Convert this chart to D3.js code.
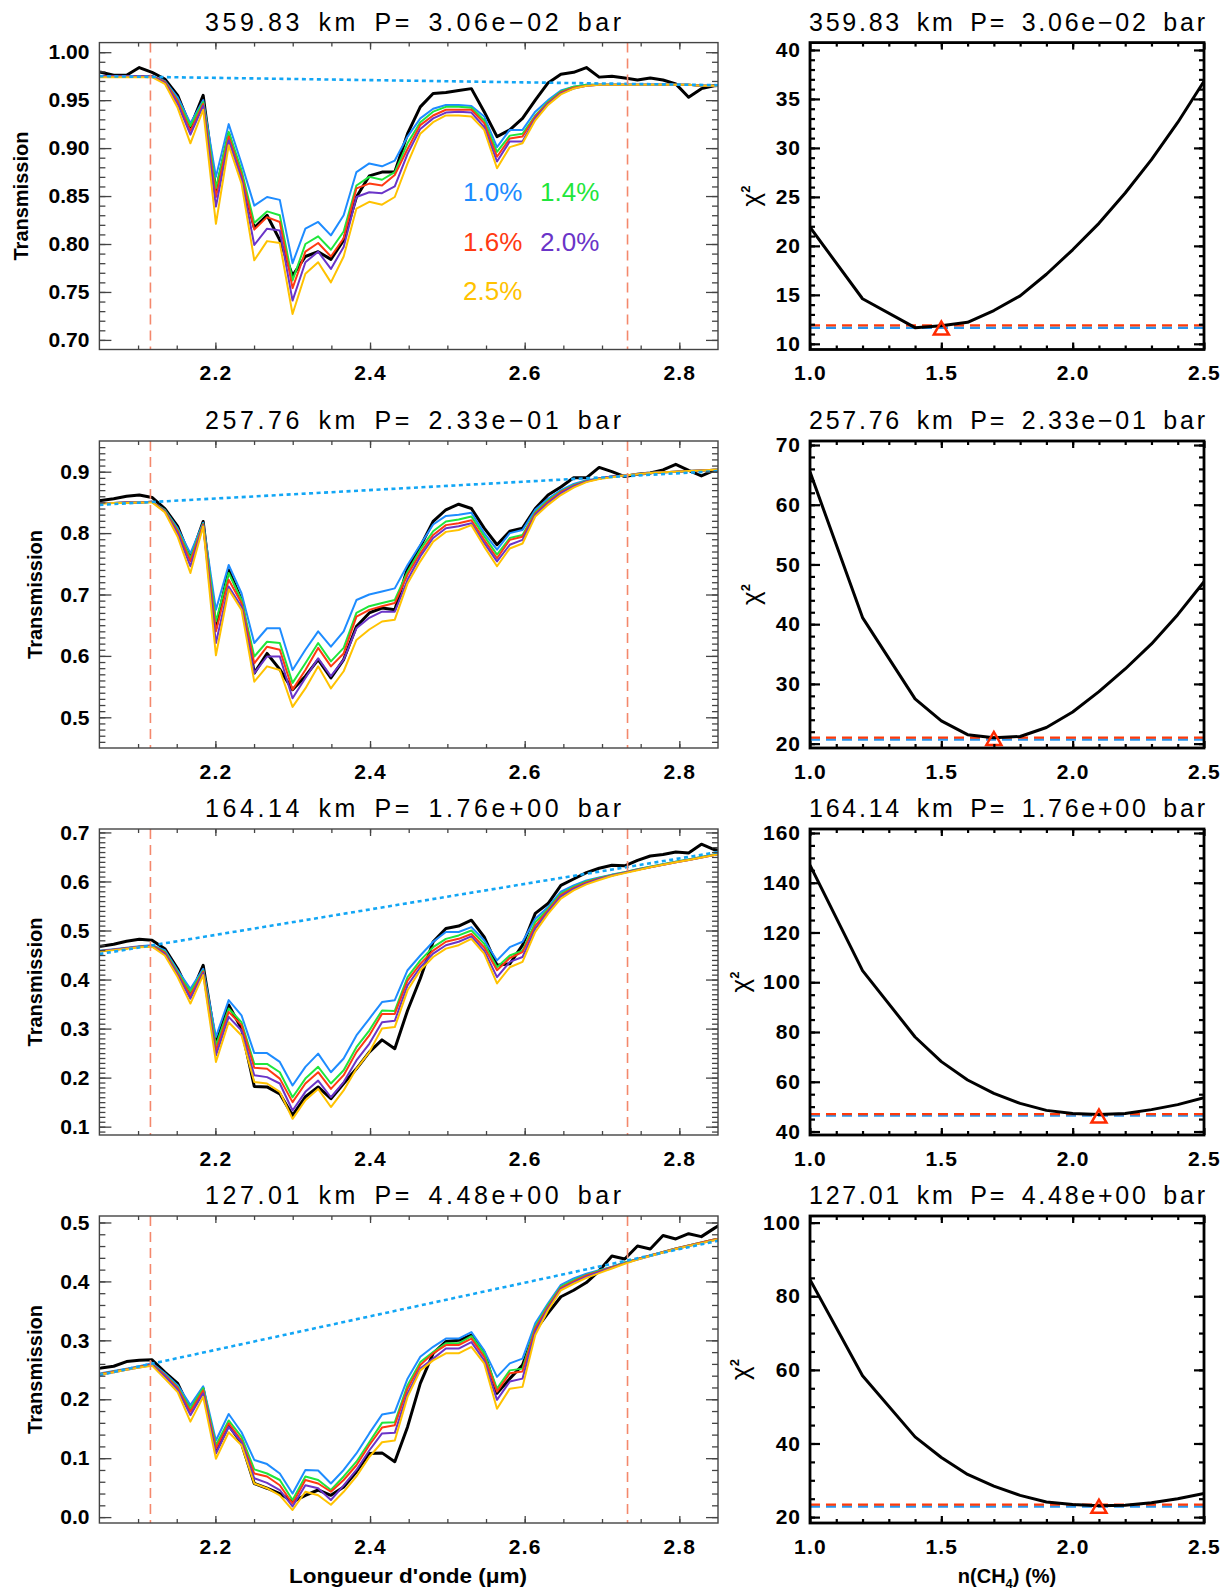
<!DOCTYPE html>
<html><head><meta charset="utf-8">
<script src="https://cdn.jsdelivr.net/npm/d3@7"></script>
<style>
body{margin:0;background:#fff;}
svg{display:block;font-family:"Liberation Sans",Arial,Helvetica,sans-serif;}
</style>
</head><body>
<svg id="c" width="1231" height="1590"></svg>
<script>
// ---------------- DATA ----------------
const wl = [2.0355,2.0520,2.0685,2.0851,2.1016,2.1181,2.1346,2.1512,2.1677,2.1842,2.2007,2.2172,2.2338,2.2503,2.2668,2.2833,2.2998,2.3164,2.3329,2.3494,2.3659,2.3824,2.3990,2.4155,2.4320,2.4485,2.4650,2.4816,2.4981,2.5146,2.5311,2.5476,2.5642,2.5807,2.5972,2.6137,2.6302,2.6468,2.6633,2.6798,2.6963,2.7128,2.7294,2.7459,2.7624,2.7789,2.7954,2.8120,2.8285,2.8450,2.8615];

const titles = ["359.83 km P= 3.06e\u221202 bar","257.76 km P= 2.33e\u221201 bar","164.14 km P= 1.76e+00 bar","127.01 km P= 4.48e+00 bar"];
const legendLabels = ["1.0%","1.4%","1.6%","2.0%","2.5%"];

// panel 1
const obs1 = [0.981,0.979,0.976,0.976,0.984,0.979,0.972,0.955,0.922,0.955,0.854,0.915,0.870,0.817,0.830,0.804,0.767,0.787,0.792,0.784,0.804,0.849,0.871,0.875,0.875,0.915,0.943,0.957,0.958,0.960,0.962,0.938,0.912,0.919,0.931,0.950,0.968,0.977,0.979,0.984,0.974,0.975,0.973,0.971,0.973,0.971,0.967,0.953,0.962,0.965,0.966];
const m1_10 = [0.975,0.975,0.975,0.975,0.975,0.975,0.970,0.953,0.926,0.950,0.870,0.925,0.884,0.840,0.849,0.846,0.780,0.816,0.823,0.809,0.830,0.875,0.884,0.881,0.887,0.912,0.931,0.941,0.945,0.945,0.944,0.933,0.901,0.919,0.919,0.938,0.950,0.960,0.964,0.966,0.966,0.966,0.966,0.966,0.966,0.966,0.966,0.966,0.965,0.965,0.965];
const m1_14 = [0.975,0.975,0.975,0.975,0.975,0.975,0.969,0.950,0.923,0.948,0.858,0.917,0.877,0.822,0.834,0.830,0.762,0.800,0.808,0.794,0.813,0.861,0.870,0.867,0.875,0.905,0.927,0.938,0.943,0.943,0.942,0.929,0.896,0.913,0.915,0.934,0.948,0.959,0.964,0.966,0.966,0.966,0.966,0.966,0.966,0.966,0.966,0.966,0.965,0.965,0.965];
const m1_16 = [0.975,0.975,0.975,0.975,0.975,0.975,0.969,0.949,0.918,0.946,0.849,0.912,0.872,0.815,0.828,0.823,0.754,0.792,0.801,0.787,0.806,0.858,0.863,0.861,0.872,0.899,0.924,0.934,0.940,0.940,0.940,0.926,0.891,0.910,0.912,0.933,0.947,0.958,0.963,0.965,0.966,0.966,0.966,0.966,0.966,0.966,0.966,0.966,0.965,0.965,0.965];
const m1_20 = [0.975,0.975,0.975,0.975,0.975,0.975,0.968,0.946,0.914,0.944,0.839,0.908,0.868,0.799,0.816,0.814,0.741,0.781,0.792,0.774,0.797,0.849,0.854,0.853,0.860,0.894,0.920,0.931,0.937,0.938,0.937,0.922,0.886,0.907,0.907,0.931,0.946,0.957,0.962,0.965,0.966,0.966,0.966,0.966,0.966,0.966,0.966,0.966,0.965,0.965,0.965];
const m1_25 = [0.974,0.974,0.974,0.974,0.974,0.974,0.967,0.942,0.905,0.940,0.821,0.903,0.863,0.783,0.803,0.801,0.727,0.769,0.781,0.760,0.787,0.837,0.844,0.841,0.849,0.884,0.915,0.927,0.934,0.934,0.933,0.919,0.879,0.901,0.905,0.929,0.945,0.956,0.962,0.965,0.966,0.966,0.966,0.966,0.966,0.966,0.966,0.966,0.965,0.965,0.965];

// panel 2
const obs2 = [0.853,0.853,0.856,0.860,0.862,0.858,0.840,0.811,0.759,0.819,0.645,0.740,0.691,0.572,0.604,0.578,0.545,0.567,0.594,0.564,0.594,0.648,0.670,0.678,0.675,0.743,0.778,0.819,0.838,0.847,0.840,0.808,0.781,0.803,0.808,0.840,0.862,0.875,0.890,0.890,0.907,0.900,0.892,0.896,0.898,0.903,0.912,0.902,0.893,0.902,0.903];
const m2_10 = [0.849,0.849,0.849,0.850,0.850,0.851,0.838,0.808,0.767,0.817,0.675,0.748,0.702,0.621,0.645,0.645,0.577,0.610,0.640,0.615,0.640,0.691,0.700,0.705,0.710,0.748,0.781,0.814,0.828,0.830,0.833,0.800,0.773,0.800,0.805,0.838,0.856,0.870,0.880,0.886,0.889,0.892,0.894,0.896,0.898,0.899,0.900,0.901,0.902,0.903,0.904];
const m2_14 = [0.849,0.849,0.849,0.850,0.850,0.851,0.837,0.805,0.759,0.815,0.656,0.735,0.691,0.599,0.623,0.621,0.556,0.588,0.621,0.591,0.613,0.670,0.681,0.686,0.691,0.737,0.773,0.803,0.819,0.822,0.827,0.795,0.765,0.792,0.797,0.834,0.853,0.868,0.878,0.885,0.889,0.892,0.894,0.896,0.898,0.899,0.900,0.901,0.902,0.903,0.904];
const m2_16 = [0.849,0.849,0.849,0.850,0.850,0.851,0.836,0.803,0.754,0.814,0.640,0.724,0.686,0.588,0.615,0.610,0.545,0.577,0.613,0.583,0.604,0.664,0.675,0.681,0.686,0.732,0.767,0.797,0.813,0.816,0.821,0.789,0.759,0.789,0.794,0.832,0.851,0.867,0.877,0.884,0.889,0.892,0.894,0.896,0.898,0.899,0.900,0.901,0.902,0.903,0.904];
const m2_20 = [0.849,0.849,0.849,0.850,0.850,0.851,0.835,0.799,0.746,0.812,0.621,0.713,0.680,0.572,0.599,0.599,0.531,0.564,0.596,0.567,0.594,0.645,0.662,0.672,0.672,0.724,0.762,0.792,0.808,0.811,0.816,0.784,0.754,0.781,0.789,0.830,0.849,0.865,0.876,0.884,0.889,0.892,0.894,0.896,0.898,0.899,0.900,0.901,0.902,0.903,0.904];
const m2_25 = [0.848,0.848,0.849,0.849,0.850,0.850,0.834,0.794,0.735,0.811,0.601,0.708,0.675,0.558,0.583,0.577,0.517,0.547,0.583,0.547,0.575,0.626,0.643,0.656,0.659,0.718,0.754,0.786,0.802,0.805,0.813,0.778,0.746,0.775,0.783,0.827,0.846,0.862,0.874,0.883,0.888,0.891,0.894,0.896,0.898,0.899,0.900,0.901,0.902,0.903,0.904];

// panel 3
const obs3 = [0.466,0.468,0.472,0.478,0.482,0.480,0.463,0.422,0.368,0.429,0.269,0.348,0.300,0.182,0.181,0.167,0.123,0.161,0.181,0.157,0.188,0.218,0.252,0.277,0.259,0.337,0.402,0.477,0.504,0.509,0.521,0.487,0.429,0.432,0.470,0.535,0.555,0.592,0.605,0.618,0.627,0.633,0.632,0.643,0.652,0.655,0.660,0.658,0.676,0.665,0.662];
const m3_10 = [0.456,0.459,0.462,0.465,0.468,0.470,0.460,0.419,0.381,0.422,0.283,0.358,0.327,0.250,0.250,0.232,0.184,0.222,0.249,0.211,0.239,0.286,0.320,0.354,0.358,0.419,0.449,0.477,0.497,0.497,0.507,0.480,0.439,0.466,0.477,0.524,0.548,0.579,0.592,0.602,0.608,0.614,0.619,0.625,0.630,0.635,0.640,0.645,0.650,0.655,0.659];
const m3_14 = [0.455,0.458,0.461,0.464,0.467,0.469,0.457,0.415,0.375,0.418,0.266,0.341,0.313,0.228,0.228,0.211,0.160,0.198,0.222,0.188,0.215,0.262,0.296,0.337,0.336,0.405,0.439,0.466,0.483,0.490,0.500,0.473,0.425,0.449,0.459,0.517,0.544,0.575,0.589,0.600,0.607,0.613,0.619,0.625,0.630,0.635,0.640,0.645,0.650,0.655,0.659];
const m3_16 = [0.455,0.458,0.461,0.464,0.467,0.469,0.455,0.412,0.368,0.416,0.255,0.334,0.307,0.220,0.218,0.198,0.150,0.188,0.211,0.177,0.205,0.252,0.286,0.330,0.330,0.398,0.432,0.459,0.477,0.483,0.493,0.466,0.419,0.444,0.456,0.510,0.541,0.572,0.587,0.598,0.606,0.612,0.618,0.624,0.629,0.634,0.639,0.644,0.649,0.654,0.658];
const m3_20 = [0.455,0.458,0.461,0.464,0.467,0.468,0.452,0.409,0.361,0.413,0.245,0.324,0.296,0.205,0.201,0.188,0.133,0.171,0.194,0.160,0.191,0.235,0.269,0.313,0.316,0.388,0.425,0.453,0.470,0.477,0.488,0.459,0.405,0.436,0.446,0.504,0.538,0.569,0.585,0.596,0.605,0.612,0.618,0.624,0.629,0.634,0.639,0.644,0.649,0.654,0.658];
const m3_25 = [0.454,0.457,0.460,0.463,0.466,0.467,0.449,0.405,0.351,0.409,0.232,0.313,0.286,0.191,0.188,0.171,0.116,0.154,0.177,0.140,0.174,0.218,0.252,0.300,0.303,0.378,0.419,0.446,0.463,0.470,0.483,0.453,0.392,0.425,0.436,0.497,0.534,0.565,0.582,0.594,0.603,0.611,0.617,0.623,0.629,0.634,0.639,0.644,0.649,0.654,0.658];

// panel 4
const obs4 = [0.251,0.253,0.256,0.264,0.266,0.267,0.246,0.227,0.181,0.218,0.111,0.156,0.125,0.057,0.049,0.040,0.026,0.037,0.046,0.037,0.051,0.077,0.108,0.109,0.094,0.153,0.227,0.278,0.298,0.300,0.309,0.280,0.210,0.235,0.258,0.317,0.346,0.374,0.385,0.398,0.418,0.443,0.438,0.460,0.455,0.478,0.472,0.481,0.476,0.490,0.503];
const m4_10 = [0.240,0.244,0.248,0.252,0.256,0.261,0.244,0.224,0.190,0.222,0.130,0.175,0.144,0.097,0.090,0.074,0.040,0.080,0.079,0.057,0.080,0.108,0.142,0.174,0.178,0.235,0.272,0.289,0.303,0.303,0.314,0.283,0.238,0.261,0.269,0.329,0.363,0.394,0.405,0.413,0.419,0.425,0.432,0.438,0.444,0.450,0.456,0.461,0.466,0.471,0.476];
const m4_14 = [0.240,0.243,0.247,0.251,0.255,0.259,0.242,0.221,0.184,0.219,0.122,0.164,0.136,0.081,0.074,0.063,0.029,0.069,0.063,0.046,0.069,0.094,0.127,0.160,0.161,0.224,0.263,0.280,0.295,0.295,0.307,0.278,0.218,0.249,0.252,0.323,0.360,0.391,0.402,0.411,0.418,0.424,0.432,0.438,0.444,0.450,0.456,0.461,0.466,0.471,0.476];
const m4_16 = [0.240,0.243,0.247,0.251,0.255,0.259,0.241,0.219,0.179,0.215,0.116,0.159,0.130,0.074,0.069,0.054,0.023,0.063,0.057,0.043,0.063,0.088,0.122,0.152,0.156,0.218,0.258,0.278,0.292,0.292,0.303,0.272,0.213,0.244,0.247,0.320,0.357,0.389,0.400,0.410,0.417,0.424,0.431,0.438,0.444,0.450,0.456,0.461,0.466,0.471,0.476];
const m4_20 = [0.239,0.242,0.246,0.250,0.254,0.258,0.239,0.216,0.173,0.210,0.108,0.153,0.127,0.066,0.058,0.046,0.018,0.054,0.049,0.029,0.054,0.080,0.113,0.142,0.143,0.210,0.252,0.269,0.286,0.286,0.297,0.266,0.199,0.230,0.235,0.315,0.354,0.387,0.398,0.408,0.416,0.423,0.431,0.437,0.443,0.449,0.455,0.460,0.465,0.470,0.475];
const m4_25 = [0.239,0.242,0.246,0.250,0.254,0.257,0.235,0.212,0.162,0.204,0.099,0.144,0.122,0.057,0.049,0.037,0.012,0.043,0.037,0.021,0.043,0.069,0.102,0.127,0.130,0.204,0.249,0.266,0.278,0.278,0.289,0.261,0.184,0.218,0.221,0.309,0.351,0.385,0.396,0.406,0.414,0.422,0.430,0.437,0.443,0.449,0.455,0.460,0.465,0.470,0.475];

// continuum (dotted) end points
const contX = [2.05, 2.85];
const cont1 = [0.975, 0.9656];
const cont2 = [0.846, 0.901];
const cont3 = [0.452, 0.660];
const cont4 = [0.241, 0.469];
// fit window (dashed verticals)
const windowX = [2.116, 2.733];

// chi-square curves
const chiX = [1.0,1.2,1.4,1.5,1.6,1.7,1.8,1.9,2.0,2.1,2.2,2.3,2.4,2.5];
const chi1 = [21.9,14.6,11.65,11.85,12.2,13.4,14.9,17.1,19.6,22.3,25.4,28.8,32.6,36.8];
const chi2 = [65.5,41.1,27.5,23.8,21.5,21.0,21.2,22.7,25.3,28.7,32.5,36.7,41.6,47.1];
const chi3 = [147.1,104.7,78.0,68.1,60.7,55.3,51.3,48.5,47.2,46.8,47.2,48.8,50.8,53.6];
const chi4 = [84.5,58.4,41.8,36.2,31.6,28.4,25.9,24.1,23.4,23.1,23.2,23.9,25.0,26.4];
const chiRedLevel  = [11.88, 21.0, 47.0, 23.4];
const chiBlueLevel = [11.64, 20.7, 46.4, 22.9];
const bestN   = [1.5, 1.7, 2.1, 2.1];
const bestChi = [11.5, 20.7, 45.8, 22.7];

// axis ticks
const xTicksL = [2.2, 2.4, 2.6, 2.8];
const xTicksR = [1.0, 1.5, 2.0, 2.5];
const yTicksL = [[0.70,0.75,0.80,0.85,0.90,0.95,1.00],[0.5,0.6,0.7,0.8,0.9],[0.1,0.2,0.3,0.4,0.5,0.6,0.7],[0.0,0.1,0.2,0.3,0.4,0.5]];
const yFmtL = [".2f",".1f",".1f",".1f"];
const yTicksR = [[10,15,20,25,30,35,40],[20,30,40,50,60,70],[40,60,80,100,120,140,160],[20,40,60,80,100]];
// ---------------- LAYOUT ----------------
const yDomL = [[0.69,1.01],[0.45,0.95],[0.083,0.707],[-0.010,0.511]];
const yDomR = [[9.42,40.75],[19.27,70.67],[38.6,161.6],[18.4,101.8]];
const yMinorStepL = [0.01,0.01,0.01,0.02];
const yMinorStepR = [1,2,5,5];
const rowsY = [[42.6,349.5],[441,748],[829,1135],[1216,1523]];
const LX = [99.4, 718], RX = [810, 1204];
const modelColors = ["#1E8CFF","#1FE63C","#FF3A12","#6A34C8","#FFC200"];
const contColor = "#12A6F5";
const winColor = "#F4886C";

const obsAll = [obs1,obs2,obs3,obs4];
const modAll = [[m1_10,m1_14,m1_16,m1_20,m1_25],[m2_10,m2_14,m2_16,m2_20,m2_25],[m3_10,m3_14,m3_16,m3_20,m3_25],[m4_10,m4_14,m4_16,m4_20,m4_25]];
const contAll = [cont1,cont2,cont3,cont4];
const chiAll = [chi1,chi2,chi3,chi4];

const svg = d3.select("#c");
const FONT = '"Liberation Sans",Arial,Helvetica,sans-serif';

function rangeTicks(dom, step){
  const a = Math.ceil(dom[0]/step - 1e-6), b = Math.floor(dom[1]/step + 1e-6);
  return d3.range(a, b+1).map(k => +(k*step).toFixed(6)).filter(v => v > dom[0]+1e-9 && v < dom[1]-1e-9);
}

function drawAxes(g, xs, ys, o){
  const [x0,x1] = xs.range(), [yb,yt] = ys.range();
  const style = (sel, ls) => {
    sel.select(".domain").remove();
    sel.attr("font-family", null).attr("font-size", null);
    sel.selectAll("line").attr("stroke", o.tickColor).attr("stroke-width", o.tickW);
    sel.selectAll("text").attr("fill", "#000").style("font-family", FONT)
      .style("font-size", o.fs + "px").style("font-weight", "bold")
      .style("letter-spacing", (ls || 0) + "px");
  };
  g.append("g").attr("transform", `translate(0,${yb})`)
    .call(d3.axisBottom(xs).tickValues(o.xMaj).tickSize(-o.xMajLen).tickPadding(o.xPad).tickFormat(d3.format(o.xFmt))).call(style, o.xls);
  g.append("g").attr("transform", `translate(0,${yb})`)
    .call(d3.axisBottom(xs).tickValues(o.xMin).tickSize(-o.xMinLen).tickFormat("")).call(style);
  g.append("g").attr("transform", `translate(0,${yt})`)
    .call(d3.axisTop(xs).tickValues(o.xMaj).tickSize(-o.xMajLen).tickFormat("")).call(style);
  g.append("g").attr("transform", `translate(0,${yt})`)
    .call(d3.axisTop(xs).tickValues(o.xMin).tickSize(-o.xMinLen).tickFormat("")).call(style);
  g.append("g").attr("transform", `translate(${x0},0)`)
    .call(d3.axisLeft(ys).tickValues(o.yMaj).tickSize(-o.yMajLen).tickPadding(o.yPad).tickFormat(d3.format(o.yFmt))).call(style, o.yls);
  g.append("g").attr("transform", `translate(${x0},0)`)
    .call(d3.axisLeft(ys).tickValues(o.yMin).tickSize(-o.yMinLen).tickFormat("")).call(style);
  g.append("g").attr("transform", `translate(${x1},0)`)
    .call(d3.axisRight(ys).tickValues(o.yMaj).tickSize(-o.yMajLen).tickFormat("")).call(style);
  g.append("g").attr("transform", `translate(${x1},0)`)
    .call(d3.axisRight(ys).tickValues(o.yMin).tickSize(-o.yMinLen).tickFormat("")).call(style);
  g.append("rect").attr("x", x0).attr("y", yt).attr("width", x1-x0).attr("height", yb-yt)
    .attr("fill", "none").attr("stroke", o.frameColor).attr("stroke-width", o.frameW);
}

function addTitle(g, cx, y, txt, len){
  g.append("text").attr("x", cx).attr("y", y)
    .attr("text-anchor","middle").style("font-size","25px").style("font-family",FONT)
    .style("word-spacing","5px")
    .attr("textLength", len).attr("lengthAdjust","spacing").text(txt);
}

const defs = svg.append("defs");

for (let i = 0; i < 4; i++){
  const [top, bot] = rowsY[i];

  // ---------- left: transmission spectra ----------
  const xs = d3.scaleLinear([2.05, 2.85], LX);
  const ys = d3.scaleLinear(yDomL[i], [bot, top]);
  const gl = svg.append("g");
  defs.append("clipPath").attr("id", "cl"+i).append("rect")
    .attr("x", LX[0]).attr("y", top).attr("width", LX[1]-LX[0]).attr("height", bot-top);
  const plot = gl.append("g").attr("clip-path", `url(#cl${i})`);
  const line = d3.line().x((d,k) => xs(wl[k])).y(d => ys(d));

  plot.append("path").attr("d", line(obsAll[i])).attr("fill","none")
    .attr("stroke","#000").attr("stroke-width",3).attr("stroke-linejoin","round");
  modAll[i].forEach((m, j) => {
    plot.append("path").attr("d", line(m)).attr("fill","none")
      .attr("stroke", modelColors[j]).attr("stroke-width", 2).attr("stroke-linejoin","round");
  });
  plot.append("path")
    .attr("d", d3.line().x((d,k)=>xs(contX[k])).y(d=>ys(d))(contAll[i]))
    .attr("fill","none").attr("stroke",contColor).attr("stroke-width",2.6).attr("stroke-dasharray","4,3.5");
  windowX.forEach(w => {
    plot.append("line").attr("x1", xs(w)).attr("x2", xs(w)).attr("y1", top).attr("y2", bot)
      .attr("stroke", winColor).attr("stroke-width", 1.6).attr("stroke-dasharray","10,6");
  });

  drawAxes(gl, xs, ys, {
    xMaj: xTicksL, xMin: rangeTicks([2.05,2.85], 0.05), xFmt: ".1f",
    yMaj: yTicksL[i], yMin: rangeTicks(yDomL[i], yMinorStepL[i]), yFmt: yFmtL[i],
    xMajLen: 7, xMinLen: 4, yMajLen: 12, yMinLen: 6, xPad: 16, yPad: 10,
    tickColor: "#444", tickW: 1.3, frameColor: "#444", frameW: 1.4, fs: 21, xls: 1.2, yls: 0
  });

  addTitle(gl, 413, top - 12, titles[i], 416);

  const labX = i === 0 ? 28 : 42;
  gl.append("text").attr("transform", `translate(${labX},${(top+bot)/2}) rotate(-90)`)
    .attr("text-anchor","middle").style("font-size","20px").style("font-weight","bold")
    .style("font-family",FONT).text("Transmission");

  if (i === 0){
    legendLabels.forEach((t, j) => {
      const col = j < 4 ? j % 2 : 0, row = Math.floor(j/2);
      gl.append("text").attr("x", 463 + col*77).attr("y", 201 + row*49.5)
        .style("font-size","26px").style("font-family",FONT)
        .attr("fill", modelColors[j]).text(t);
    });
  }

  // ---------- right: chi-square ----------
  const xr = d3.scaleLinear([1.0, 2.5], RX);
  const yr = d3.scaleLinear(yDomR[i], [bot, top]);
  const gr = svg.append("g");
  defs.append("clipPath").attr("id", "cr"+i).append("rect")
    .attr("x", RX[0]).attr("y", top).attr("width", RX[1]-RX[0]).attr("height", bot-top);
  const pr = gr.append("g").attr("clip-path", `url(#cr${i})`);
  pr.append("line").attr("x1", RX[0]).attr("x2", RX[1])
    .attr("y1", yr(chiBlueLevel[i])).attr("y2", yr(chiBlueLevel[i]))
    .attr("stroke","#2A96EE").attr("stroke-width",2.4).attr("stroke-dasharray","10,6");
  pr.append("line").attr("x1", RX[0]).attr("x2", RX[1])
    .attr("y1", yr(chiRedLevel[i])).attr("y2", yr(chiRedLevel[i]))
    .attr("stroke","#FF3A0A").attr("stroke-width",2.4).attr("stroke-dasharray","10,6");
  pr.append("path").attr("d", d3.line().x((d,k)=>xr(chiX[k])).y(d=>yr(d))(chiAll[i]))
    .attr("fill","none").attr("stroke","#000").attr("stroke-width",3).attr("stroke-linejoin","round");
  const tx = xr(bestN[i]), ty = yr(bestChi[i]);
  gr.append("path").attr("d", `M${tx-7.5},${ty+5.5}L${tx+7.5},${ty+5.5}L${tx},${ty-7.5}Z`)
    .attr("fill","none").attr("stroke","#FF2A00").attr("stroke-width",2.5).attr("stroke-linejoin","miter");

  drawAxes(gr, xr, yr, {
    xMaj: xTicksR, xMin: rangeTicks([1.0,2.5], 0.1), xFmt: ".1f",
    yMaj: yTicksR[i], yMin: rangeTicks(yDomR[i], yMinorStepR[i]), yFmt: "d",
    xMajLen: 7, xMinLen: 4, yMajLen: 10, yMinLen: 5, xPad: 16, yPad: 9,
    tickColor: "#000", tickW: 2.2, frameColor: "#000", frameW: 2.8, fs: 21, xls: 1.2, yls: 1
  });

  addTitle(gr, (RX[0]+RX[1])/2, top - 12, titles[i], 396);

  const chiLabX = [760, 760, 749, 749][i];
  const ct = gr.append("text").attr("transform", `translate(${chiLabX},${(top+bot)/2}) rotate(-90)`)
    .attr("text-anchor","middle").style("font-size","26px").style("font-family",FONT);
  ct.append("tspan").text("\u03C7");
  ct.append("tspan").attr("dy", -10).style("font-size","13px").style("font-weight","bold").text("2");
}

// x axis titles
svg.append("text").attr("x", 408).attr("y", 1583).attr("text-anchor","middle")
  .style("font-size","21px").style("font-weight","bold").style("font-family",FONT)
  .attr("textLength", 238).attr("lengthAdjust","spacingAndGlyphs")
  .text("Longueur d'onde (\u03BCm)");
const nt = svg.append("text").attr("x", 1007).attr("y", 1583).attr("text-anchor","middle")
  .style("font-size","20px").style("font-weight","bold").style("font-family",FONT);
nt.append("tspan").text("n(CH");
nt.append("tspan").attr("dy", 5).style("font-size","13px").text("4");
nt.append("tspan").attr("dy", -5).text(") (%)");
</script>
</body></html>
